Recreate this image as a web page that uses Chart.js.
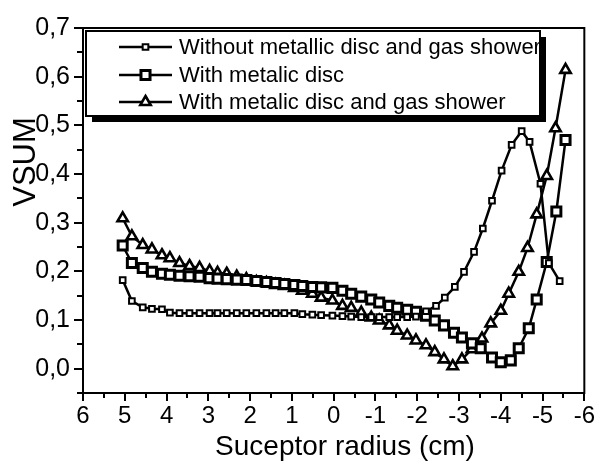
<!DOCTYPE html>
<html>
<head>
<meta charset="utf-8">
<script src="https://cdn.jsdelivr.net/npm/chart.js@4/dist/chart.umd.min.js"></script>
<style>
  html, body { margin: 0; padding: 0; background: #fff; }
</style>
</head>
<body>
<canvas id="vsum" width="604" height="463"></canvas>
<script>
// series names (legend)
var seriesNames = [
    "Without metallic disc and gas shower",
    "With metalic disc",
    "With metalic disc and gas shower"
];

// without metallic disc and gas shower (small squares)
var radiusA = [5.05, 4.83, 4.57, 4.35, 4.11, 3.92, 3.69, 3.45, 3.21, 2.97, 2.78, 2.56, 2.32, 2.09, 1.85, 1.61,
    1.39, 1.18, 0.94, 0.75, 0.51, 0.30, 0.03, -0.21, -0.42, -0.66, -0.90, -1.09, -1.33, -1.52, -1.76, -1.97,
    -2.21, -2.45, -2.66, -2.90, -3.12, -3.36, -3.57, -3.79, -4.02, -4.26, -4.50, -4.69, -4.95, -5.15, -5.41];
var vsumA = [0.182, 0.139, 0.126, 0.123, 0.122, 0.115, 0.114, 0.114, 0.114, 0.114, 0.114, 0.114, 0.114, 0.114, 0.114, 0.114,
    0.114, 0.114, 0.114, 0.112, 0.111, 0.110, 0.109, 0.108, 0.107, 0.106, 0.106, 0.106, 0.106, 0.106, 0.106, 0.107,
    0.118, 0.129, 0.146, 0.168, 0.199, 0.240, 0.288, 0.345, 0.407, 0.460, 0.488, 0.466, 0.380, 0.217, 0.180];

// with metalic disc (big squares)
var radiusB = [5.05, 4.83, 4.57, 4.35, 4.11, 3.92, 3.69, 3.45, 3.21, 2.97, 2.78, 2.56, 2.32, 2.09, 1.85, 1.61,
    1.39, 1.18, 0.94, 0.75, 0.51, 0.30, 0.03, -0.21, -0.42, -0.66, -0.90, -1.09, -1.33, -1.52, -1.76, -1.97,
    -2.21, -2.42, -2.64, -2.88, -3.07, -3.31, -3.52, -3.79, -4.00, -4.24, -4.43, -4.67, -4.86, -5.10, -5.33, -5.55];
var vsumB = [0.253, 0.217, 0.207, 0.199, 0.195, 0.193, 0.191, 0.190, 0.189, 0.186, 0.185, 0.184, 0.183, 0.182, 0.180, 0.178,
    0.176, 0.174, 0.172, 0.170, 0.168, 0.167, 0.166, 0.160, 0.154, 0.148, 0.142, 0.136, 0.129, 0.125, 0.121, 0.117,
    0.109, 0.099, 0.089, 0.074, 0.064, 0.052, 0.042, 0.023, 0.013, 0.017, 0.042, 0.083, 0.142, 0.219, 0.323, 0.470];

// with metalic disc and gas shower (triangles)
var radiusC = [5.05, 4.83, 4.57, 4.35, 4.11, 3.92, 3.69, 3.45, 3.21, 2.97, 2.78, 2.56, 2.32, 2.09, 1.85, 1.61,
    1.39, 1.18, 0.94, 0.75, 0.51, 0.30, 0.03, -0.21, -0.42, -0.66, -0.90, -1.09, -1.33, -1.52, -1.76, -1.97,
    -2.21, -2.42, -2.64, -2.85, -3.07, -3.31, -3.55, -3.76, -4.00, -4.19, -4.43, -4.64, -4.86, -5.10, -5.31, -5.55];
var vsumC = [0.309, 0.272, 0.254, 0.245, 0.233, 0.227, 0.217, 0.211, 0.207, 0.201, 0.197, 0.195, 0.189, 0.184, 0.178, 0.176,
    0.172, 0.170, 0.166, 0.160, 0.154, 0.146, 0.140, 0.129, 0.125, 0.115, 0.105, 0.099, 0.089, 0.078, 0.068, 0.058,
    0.048, 0.034, 0.019, 0.005, 0.019, 0.040, 0.062, 0.093, 0.119, 0.154, 0.199, 0.248, 0.317, 0.396, 0.494, 0.614];

var xTicks = [6, 5, 4, 3, 2, 1, 0, -1, -2, -3, -4, -5, -6];
var yTicks = [0, 0.1, 0.2, 0.3, 0.4, 0.5, 0.6, 0.7];

var FONT = '"Liberation Sans", Arial, sans-serif';

function pairs(xs, ys) {
    return xs.map(function (x, i) { return { x: x, y: ys[i] }; });
}

var markers = [
    { pointStyle: "rect", radius: 4, borderWidth: 2 },
    { pointStyle: "rect", radius: 6.4, borderWidth: 3 },
    { pointStyle: "triangle", radius: 6, borderWidth: 2.6 }
];

function marker(ctx, m, x, y) {
    ctx.fillStyle = "#fff";
    ctx.strokeStyle = "#000";
    ctx.lineWidth = m.borderWidth;
    if (Chart.helpers && Chart.helpers.drawPoint) {
        Chart.helpers.drawPoint(ctx, { pointStyle: m.pointStyle, radius: m.radius, borderWidth: m.borderWidth, rotation: 0 }, x, y);
        return;
    }
    ctx.beginPath();
    if (m.pointStyle === "rect") {
        var s = m.radius * Math.SQRT1_2;
        ctx.rect(x - s, y - s, 2 * s, 2 * s);
    } else {
        ctx.moveTo(x, y - m.radius);
        ctx.lineTo(x + m.radius * 0.866, y + m.radius * 0.5);
        ctx.lineTo(x - m.radius * 0.866, y + m.radius * 0.5);
        ctx.closePath();
    }
    ctx.fill();
    ctx.stroke();
}

var framePlugin = {
    id: "frame",
    afterDraw: function (chart) {
        var ctx = chart.ctx, a = chart.chartArea;
        var xs = chart.scales.x, ys = chart.scales.y;
        ctx.save();
        ctx.strokeStyle = "#000";
        ctx.lineWidth = 2;
        ctx.strokeRect(a.left, a.top, a.right - a.left, a.bottom - a.top);

        // y ticks, major and minor, outside
        ctx.beginPath();
        yTicks.forEach(function (v) {
            var p = Math.round(ys.getPixelForValue(v));
            ctx.moveTo(a.left - 9, p); ctx.lineTo(a.left, p);
            var m = Math.round(ys.getPixelForValue(v - 0.05));
            ctx.moveTo(a.left - 6, m); ctx.lineTo(a.left, m);
        });
        // x ticks
        xTicks.forEach(function (v, i) {
            var p = Math.round(xs.getPixelForValue(v));
            ctx.moveTo(p, a.bottom); ctx.lineTo(p, a.bottom + 8);
            if (i > 0) {
                var m = Math.round(xs.getPixelForValue((v + xTicks[i - 1]) / 2));
                ctx.moveTo(m, a.bottom); ctx.lineTo(m, a.bottom + 5);
            }
        });
        ctx.stroke();

        // axis titles
        ctx.fillStyle = "#000";
        ctx.font = "28px " + FONT;
        ctx.textAlign = "center";
        ctx.textBaseline = "alphabetic";
        ctx.fillText("Suceptor radius (cm)", 345, 455);
        ctx.save();
        ctx.translate(35, 162);
        ctx.rotate(-Math.PI / 2);
        ctx.font = "31px " + FONT;
        ctx.fillText("VSUM", 0, 0);
        ctx.restore();

        // legend box with drop shadow
        var bx = 86, by = 31, bw = 454, bh = 85;
        ctx.fillStyle = "#000";
        ctx.fillRect(bx + 6, by + 6, bw, bh);
        ctx.fillStyle = "#fff";
        ctx.fillRect(bx, by, bw, bh);
        ctx.lineWidth = 2;
        ctx.strokeRect(bx, by, bw, bh);

        var rows = [47, 75, 102];
        ctx.font = "22px " + FONT;
        ctx.textAlign = "left";
        ctx.textBaseline = "middle";
        seriesNames.forEach(function (name, i) {
            var y = rows[i];
            ctx.strokeStyle = "#000";
            ctx.lineWidth = 2.5;
            ctx.beginPath();
            ctx.moveTo(119, y); ctx.lineTo(172, y);
            ctx.stroke();
            marker(ctx, markers[i], 145.5, y);
            ctx.fillStyle = "#000";
            ctx.fillText(name, 179, y + 1);
        });
        ctx.restore();
    }
};

function dataset(i, xs, ys) {
    return {
        label: seriesNames[i],
        data: pairs(xs, ys),
        borderColor: "#000",
        borderWidth: 2.5,
        tension: 0,
        pointStyle: markers[i].pointStyle,
        pointRadius: markers[i].radius,
        pointBorderWidth: markers[i].borderWidth,
        pointBackgroundColor: "#fff",
        pointBorderColor: "#000"
    };
}

new Chart(document.getElementById("vsum"), {
    type: "line",
    data: {
        datasets: [
            dataset(0, radiusA, vsumA),
            dataset(1, radiusB, vsumB),
            dataset(2, radiusC, vsumC)
        ]
    },
    options: {
        responsive: false,
        animation: false,
        devicePixelRatio: 1,
        layout: { padding: { left: 0, right: 18, top: 25, bottom: 0 } },
        plugins: { legend: { display: false }, tooltip: { enabled: false } },
        scales: {
            x: {
                type: "linear",
                reverse: true,
                min: -6,
                max: 6,
                afterFit: function (s) { s.height = 70; },
                afterBuildTicks: function (s) {
                    s.ticks = xTicks.map(function (v) { return { value: v }; });
                },
                grid: { display: false, drawTicks: false },
                border: { display: false },
                ticks: {
                    padding: 9,
                    color: "#000",
                    font: { family: FONT, size: 24 },
                    maxRotation: 0,
                    autoSkip: false
                }
            },
            y: {
                type: "linear",
                min: -0.05,
                max: 0.7,
                afterFit: function (s) { s.width = 83; },
                afterBuildTicks: function (s) {
                    s.ticks = yTicks.map(function (v) { return { value: v }; });
                },
                grid: { display: false, drawTicks: false },
                border: { display: false },
                ticks: {
                    padding: 13,
                    color: "#000",
                    font: { family: FONT, size: 25 },
                    autoSkip: false,
                    callback: function (v) { return v.toFixed(1).replace(".", ","); }
                }
            }
        }
    },
    plugins: [framePlugin]
});
</script>
</body>
</html>
